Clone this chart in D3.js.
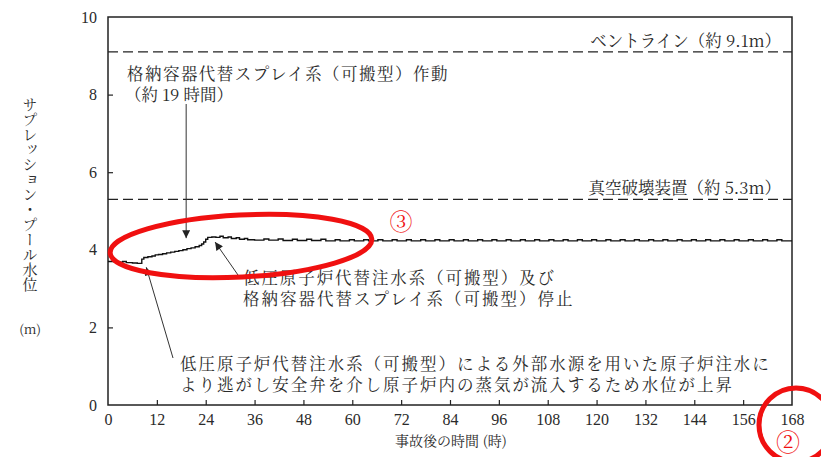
<!DOCTYPE html>
<html><head><meta charset="utf-8">
<script src="https://cdn.jsdelivr.net/npm/d3@7"></script>
<style>
html,body{margin:0;padding:0;background:#fff;}
svg{display:block;}
</style></head>
<body>
<svg id="chart" width="821" height="457"></svg>
<script>
// ---- data ----
const hours = [0, 1.5, 3, 3.6, 4.5, 6, 7.2, 8.3, 8.8, 9.8, 10.8, 11.6, 12.4, 13.4, 14.4, 15.4, 16.4, 17.4, 18.4, 19.4, 20.4, 21.4, 22.4, 23.0, 23.5, 24.0, 24.5, 25.5, 26.5, 27.5, 28.3, 29.5, 30.3, 31.5, 32.3, 33.5, 34.3,
  36, 38.3, 39.5, 41.8, 43, 45.3, 46.5, 48.8, 50, 52.3, 53.5, 55.8, 57, 59.3, 60.5, 62.8, 64, 66.3, 67.5, 69.8, 71, 73.3, 74.5, 76.8, 78, 80.3, 81.5, 83.8, 85, 87.3, 88.5, 90.8, 92, 94.3, 95.5, 97.8, 99, 101.3, 102.5, 104.8, 106, 108.3, 109.5, 111.8, 113, 115.3, 116.5, 118.8, 120, 122.3, 123.5, 125.8, 127, 129.3, 130.5, 132.8, 134, 136.3, 137.5, 139.8, 141, 143.3, 144.5, 146.8, 148, 150.3, 151.5, 153.8, 155, 157.3, 158.5, 160.8, 162, 164.3, 165.5, 168];
const poolLevel = [3.70, 3.69, 3.68, 3.70, 3.67, 3.66, 3.65, 3.76, 3.80, 3.82, 3.84, 3.87, 3.88, 3.90, 3.92, 3.94, 3.96, 3.98, 4.00, 4.03, 4.05, 4.08, 4.11, 4.15, 4.20, 4.27, 4.32, 4.33, 4.32, 4.35, 4.31, 4.33, 4.29, 4.31, 4.27, 4.29, 4.26,
  4.25, 4.28, 4.25, 4.28, 4.24, 4.27, 4.24, 4.27, 4.24, 4.27, 4.23, 4.26, 4.23, 4.26, 4.23, 4.26, 4.23, 4.26, 4.23, 4.26, 4.23, 4.26, 4.23, 4.26, 4.23, 4.26, 4.23, 4.26, 4.23, 4.26, 4.23, 4.26, 4.23, 4.26, 4.23, 4.26, 4.23, 4.26, 4.23, 4.26, 4.23, 4.26, 4.23, 4.26, 4.23, 4.26, 4.23, 4.26, 4.23, 4.26, 4.23, 4.26, 4.23, 4.26, 4.23, 4.26, 4.23, 4.26, 4.23, 4.26, 4.23, 4.26, 4.23, 4.26, 4.23, 4.26, 4.23, 4.26, 4.23, 4.26, 4.23, 4.26, 4.23, 4.26, 4.23, 4.23];
const xTicks = [0, 12, 24, 36, 48, 60, 72, 84, 96, 108, 120, 132, 144, 156, 168];
const yTicks = [0, 2, 4, 6, 8, 10];
const refLevels = [9.1, 5.3];
const refLabels = ["ベントライン（約 9.1m）", "真空破壊装置（約 5.3m）"];
const yTitle = "サプレッション・プール水位";
const yUnit = "(m)";
const xTitle = "事故後の時間 (時)";
const note1 = ["格納容器代替スプレイ系（可搬型）作動", "（約 19 時間）"];
const note2 = ["低圧原子炉代替注水系（可搬型）及び", "格納容器代替スプレイ系（可搬型）停止"];
const note3 = ["低圧原子炉代替注水系（可搬型）による外部水源を用いた原子炉注水に", "より逃がし安全弁を介し原子炉内の蒸気が流入するため水位が上昇"];

// ---- layout ----
const JP = '"Noto Serif CJK JP", "Noto Sans CJK JP", serif';
const SERIF = '"Liberation Serif"';
const INK = "#2a2a2a";
const svg = d3.select("#chart");
const L = 108, R = 792, T = 17, B = 405;
const x = d3.scaleLinear().domain([0, 168]).range([L, R]);
const y = d3.scaleLinear().domain([0, 10]).range([B, T]);

const defs = svg.append("defs");
defs.append("marker").attr("id", "ah").attr("viewBox", "0 0 10 10")
  .attr("refX", 10).attr("refY", 5).attr("markerWidth", 9).attr("markerHeight", 8)
  .attr("markerUnits", "userSpaceOnUse").attr("orient", "auto")
  .append("path").attr("d", "M0,0 L10,5 L0,10 Z").attr("fill", "#222");

function jpText(sel) { return sel.style("font-family", JP).style("fill", INK); }

// reference dashed lines
svg.selectAll("line.ref").data(refLevels).join("line").attr("class", "ref")
  .attr("x1", L).attr("x2", R).attr("y1", d => y(d)).attr("y2", d => y(d))
  .attr("stroke", "#222").attr("stroke-width", 1.3).attr("stroke-dasharray", "10,5");
svg.selectAll("text.ref").data(refLabels).join("text").attr("class", "ref")
  .attr("x", 781).attr("y", (d, i) => y(refLevels[i]) - 5)
  .attr("text-anchor", "end").attr("font-size", 16.5).text(d => d).call(jpText);

// axes
const xAxis = d3.axisBottom(x).tickValues(xTicks).tickSizeInner(-5).tickSizeOuter(0).tickPadding(9);
const gx = svg.append("g").attr("transform", `translate(0,${B})`).call(xAxis);
const yAxis = d3.axisLeft(y).tickValues(yTicks).tickSizeInner(-5).tickSizeOuter(0).tickPadding(11);
const gy = svg.append("g").attr("transform", `translate(${L},0)`).call(yAxis);
[gx, gy].forEach(g => {
  g.attr("font-family", SERIF).attr("font-size", 16);
  g.selectAll("text").style("font-family", SERIF).style("font-size", "16px").style("fill", INK);
});
svg.selectAll(".domain").remove();
svg.selectAll(".tick line").attr("stroke", "#222").attr("stroke-width", 1.2);
svg.selectAll(".tick").filter(d => d === 0 || d === 168 || d === 10).select("line").remove();
svg.append("rect").attr("x", L).attr("y", T).attr("width", R - L).attr("height", B - T)
  .attr("fill", "none").attr("stroke", "#222").attr("stroke-width", 1.5);

// series
const pts = hours.map((h, i) => [h, poolLevel[i]]);
svg.append("path").datum(pts)
  .attr("d", d3.line().x(d => x(d[0])).y(d => y(d[1])).curve(d3.curveStepAfter))
  .attr("fill", "none").attr("stroke", "#111").attr("stroke-width", 1.4);

// titles
svg.append("text").attr("x", 30).attr("y", 97)
  .attr("font-size", 15).style("writing-mode", "vertical-rl").text(yTitle).call(jpText);
svg.append("text").attr("x", 30).attr("y", 334).attr("text-anchor", "middle")
  .attr("font-size", 13).text(yUnit).call(jpText);
svg.append("text").attr("x", 451).attr("y", 446).attr("text-anchor", "middle")
  .attr("font-size", 14).text(xTitle).call(jpText);

// annotations
function note(lines, x0, ys, perChar) {
  lines.forEach((t, i) => {
    const el = svg.append("text").attr("x", x0[i]).attr("y", ys[i])
      .attr("font-size", 16.5).text(t).call(jpText);
    if (perChar[i]) el.attr("textLength", perChar[i] * [...t].length).attr("lengthAdjust", "spacing");
  });
}
note(note1, [127, 125], [80, 101], [17.8, 0]);
note(note2, [243, 243], [284, 305], [18.3, 18.3]);
note(note3, [180, 180], [370, 391], [18.4, 18.4]);

const arrows = [
  [x(19.2), 104, x(19.2), y(4.3)],
  [238, 275, x(26.3), y(4.2)],
  [173, 358, x(9.4), y(3.55)]
];
svg.selectAll("line.arr").data(arrows).join("line").attr("class", "arr")
  .attr("x1", d => d[0]).attr("y1", d => d[1]).attr("x2", d => d[2]).attr("y2", d => d[3])
  .attr("stroke", "#333").attr("stroke-width", 1).attr("marker-end", "url(#ah)");

// red review marks
svg.append("ellipse").attr("cx", 241).attr("cy", 246).attr("rx", 131).attr("ry", 31)
  .attr("transform", "rotate(-3 241 246)")
  .attr("fill", "none").attr("stroke", "#f01010").attr("stroke-width", 5);
svg.append("text").attr("x", 401).attr("y", 230).attr("text-anchor", "middle")
  .attr("font-size", 23).style("font-family", JP).style("fill", "#f01010").text("③");
svg.append("circle").attr("cx", 796).attr("cy", 425).attr("r", 37)
  .attr("fill", "none").attr("stroke", "#f01010").attr("stroke-width", 5);
svg.append("text").attr("x", 788).attr("y", 451).attr("text-anchor", "middle")
  .attr("font-size", 24).style("font-family", JP).style("fill", "#f01010").text("②");
</script>
</body></html>
